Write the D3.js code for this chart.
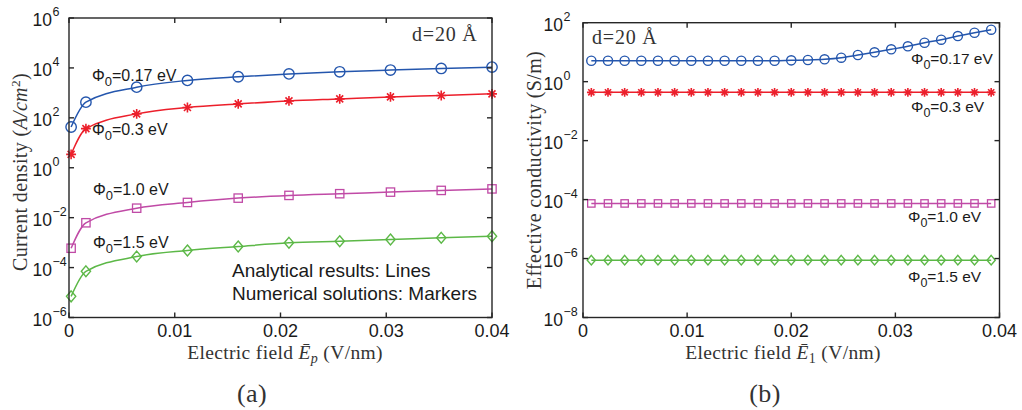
<!DOCTYPE html>
<html lang="en">
<head>
<meta charset="utf-8">
<title>Current density and effective conductivity</title>
<script src="https://cdn.jsdelivr.net/npm/d3@7"></script>
<style>
  body { margin: 0; background: #fff; }
  svg { display: block; }
  .sans { font-family: "Liberation Sans", Arial, Helvetica, sans-serif; fill: #1a1a1a; }
  .serif { font-family: "Liberation Serif", "Times New Roman", serif; fill: #333; letter-spacing: 0.35px; }
</style>
</head>
<body>
<div class="chart"></div>
<script>
// ---- data ----
// panel (a): markers = numerical, lines = analytical
var xA = [0.0002, 0.0016, 0.0064, 0.0112, 0.016, 0.0208, 0.0256, 0.0304, 0.0352, 0.04];
var jPhi017 = [43, 424, 1690, 3150, 4420, 5750, 7000, 8220, 9500, 10770];
var jPhi03 = [3.45, 37, 144, 260, 361, 478, 574, 690, 787, 912];
var jPhi10 = [5.96e-4, 6.24e-3, 0.024, 0.0407, 0.0607, 0.078, 0.0912, 0.1057, 0.1236, 0.1422];
var jPhi15 = [7.03e-6, 7.1e-5, 2.77e-4, 4.82e-4, 6.97e-4, 9.82e-4, 1.14e-3, 1.33e-3, 1.56e-3, 1.81e-3];

// panel (b)
var xB = [0.0008, 0.0024, 0.004, 0.0056, 0.0072, 0.0088, 0.0104, 0.012, 0.0136, 0.0152,
          0.0168, 0.0184, 0.02, 0.0216, 0.0232, 0.0248, 0.0264, 0.028, 0.0296, 0.0312,
          0.0328, 0.0344, 0.036, 0.0376, 0.0392];
var sPhi017 = [5.13, 5.13, 5.13, 5.13, 5.13, 5.13, 5.13, 5.13, 5.13, 5.13,
               5.13, 5.13, 5.29, 5.42, 5.73, 6.49, 8.01, 9.9, 12.5, 15.8,
               20.9, 26.5, 35.3, 45.7, 57.8];
var sPhi03 = [0.434, 0.434, 0.434, 0.434, 0.434, 0.434, 0.434, 0.434, 0.434, 0.434,
              0.434, 0.434, 0.434, 0.434, 0.434, 0.434, 0.434, 0.434, 0.434, 0.434,
              0.434, 0.434, 0.434, 0.434, 0.434];
var sPhi10 = [7.4e-5, 7.4e-5, 7.4e-5, 7.4e-5, 7.4e-5, 7.4e-5, 7.4e-5, 7.4e-5, 7.4e-5, 7.4e-5,
              7.4e-5, 7.4e-5, 7.4e-5, 7.4e-5, 7.4e-5, 7.4e-5, 7.4e-5, 7.4e-5, 7.4e-5, 7.4e-5,
              7.4e-5, 7.4e-5, 7.4e-5, 7.4e-5, 7.4e-5];
var sPhi15 = [8.8e-7, 8.8e-7, 8.8e-7, 8.8e-7, 8.8e-7, 8.8e-7, 8.8e-7, 8.8e-7, 8.8e-7, 8.8e-7,
              8.8e-7, 8.8e-7, 8.8e-7, 8.8e-7, 8.8e-7, 8.8e-7, 8.8e-7, 8.8e-7, 8.8e-7, 8.8e-7,
              8.8e-7, 8.8e-7, 8.8e-7, 8.8e-7, 8.8e-7];

var xTicks = [0, 0.01, 0.02, 0.03, 0.04];
var xTickLabels = ["0", "0.01", "0.02", "0.03", "0.04"];
var yTicksA = [-6, -4, -2, 0, 2, 4, 6];      // exponents
var yTicksB = [-8, -6, -4, -2, 0, 2];
var seriesNames = ["0.17", "0.3", "1.0", "1.5"];

var colors = ["#2456ad", "#ec1f2b", "#c04aa6", "#5cb847"];
var shapes = ["circle", "star", "square", "diamond"];

var W = 1022, H = 410;
var svg = d3.select(".chart").append("svg").attr("width", W).attr("height", H);

function marker(g, shape, size, color) {
  if (shape == "circle") {
    g.append("circle").attr("r", size).style("fill", "none").style("stroke", color).style("stroke-width", 1.4);
  } else if (shape == "square") {
    g.append("rect").attr("x", -size * 0.8).attr("y", -size * 0.8)
      .attr("width", size * 1.6).attr("height", size * 1.6)
      .style("fill", "none").style("stroke", color).style("stroke-width", 1.3);
  } else if (shape == "diamond") {
    var s = size * 1.05;
    g.append("path").attr("d", "M0," + (-s) + "L" + (s * 0.85) + ",0L0," + s + "L" + (-s * 0.85) + ",0Z")
      .style("fill", "none").style("stroke", color).style("stroke-width", 1.4);
  } else {
    var r = size * 0.95, q = r * 0.7071, p = "";
    p += "M0," + (-r) + "L0," + r;
    p += "M" + (-r) + ",0L" + r + ",0";
    p += "M" + (-q) + "," + (-q) + "L" + q + "," + q;
    p += "M" + (-q) + "," + q + "L" + q + "," + (-q);
    g.append("path").attr("d", p).style("fill", "none").style("stroke", color).style("stroke-width", 1.6);
  }
}

function phiLabel(x, y, val, fs) {
  var t = svg.append("text").attr("class", "sans").attr("x", x).attr("y", y).style("font-size", fs + "px");
  t.append("tspan").text("Φ");
  t.append("tspan").text("0").attr("dy", 5).style("font-size", (fs - 3) + "px");
  t.append("tspan").text("=" + val + " eV").attr("dy", -5);
}

function panel(cfg) {
  var x = d3.scaleLinear().domain([0, 0.04]).range([cfg.left, cfg.right]);
  var y = d3.scaleLog().domain(cfg.ydom).range([cfg.bottom, cfg.top]);
  var g = svg.append("g");

  // lines + markers
  cfg.series.forEach(function(vals, i) {
    var pts = cfg.xs.map(function(xv, k) { return [xv, vals[k]]; });
    g.append("path").datum(pts)
      .attr("d", d3.line().x(function(d) { return x(d[0]); }).y(function(d) { return y(d[1]); }).curve(d3.curveMonotoneX))
      .style("fill", "none").style("stroke", colors[i]).style("stroke-width", 1.5);
    pts.forEach(function(d) {
      var m = g.append("g").attr("transform", "translate(" + x(d[0]) + "," + y(d[1]) + ")");
      marker(m, shapes[i], cfg.msize, colors[i]);
    });
  });

  // box and inward ticks
  var ax = svg.append("g").style("stroke", "#262626").style("stroke-width", 1.4);
  ax.append("rect").attr("x", cfg.left).attr("y", cfg.top)
    .attr("width", cfg.right - cfg.left).attr("height", cfg.bottom - cfg.top).style("fill", "none");
  xTicks.forEach(function(v) {
    ax.append("line").attr("x1", x(v)).attr("x2", x(v)).attr("y1", cfg.bottom).attr("y2", cfg.bottom - 5);
    ax.append("line").attr("x1", x(v)).attr("x2", x(v)).attr("y1", cfg.top).attr("y2", cfg.top + 5);
  });
  cfg.yticks.forEach(function(e) {
    var yy = y(Math.pow(10, e));
    ax.append("line").attr("x1", cfg.left).attr("x2", cfg.left + 5).attr("y1", yy).attr("y2", yy);
    ax.append("line").attr("x1", cfg.right).attr("x2", cfg.right - 5).attr("y1", yy).attr("y2", yy);
  });

  // tick labels
  xTicks.forEach(function(v, i) {
    svg.append("text").attr("class", "sans").attr("x", x(v)).attr("y", cfg.bottom + 19.5)
      .attr("text-anchor", "middle").style("font-size", "18px").text(xTickLabels[i]);
  });
  cfg.yticks.forEach(function(e) {
    var yy = y(Math.pow(10, e));
    svg.append("text").attr("class", "sans").attr("x", cfg.left - cfg.labGap).attr("y", yy + 8)
      .attr("text-anchor", "end").style("font-size", "17.5px").text("10");
    svg.append("text").attr("class", "sans").attr("x", cfg.left - cfg.labGap + 0.5).attr("y", yy - 2)
      .style("font-size", "12.5px").text(e < 0 ? "\u2212" + (-e) : "" + e);
  });

  // x title
  var xt = svg.append("text").attr("class", "serif").attr("x", cfg.xtitleX).attr("y", 359)
    .attr("text-anchor", "middle").style("font-size", "19.5px");
  xt.append("tspan").text("Electric field ");
  xt.append("tspan").text("E\u0304").style("font-style", "italic");
  xt.append("tspan").text(cfg.sub).attr("dy", 4).style("font-size", "14px").style("font-style", cfg.sub == "p" ? "italic" : "normal");
  xt.append("tspan").text(" (V/nm)").attr("dy", -4);

  // d = 20 Å
  svg.append("text").attr("class", "serif").attr("x", cfg.dX).attr("y", cfg.dY)
    .style("font-size", "20px").style("letter-spacing", "0.8px").text("d=20 Å");

  // panel label
  svg.append("text").attr("class", "serif").attr("x", cfg.panelX).attr("y", 402)
    .attr("text-anchor", "middle").style("font-size", "26px").text(cfg.panel);
  return { x: x, y: y };
}

panel({
  left: 69, right: 492, top: 18, bottom: 317.5, labGap: 17,
  ydom: [1e-6, 1e6], yticks: yTicksA, xs: xA,
  series: [jPhi017, jPhi03, jPhi10, jPhi15], msize: 5.2,
  xtitleX: 285, sub: "p", dX: 412, dY: 41, panelX: 252, panel: "(a)"
});

panel({
  left: 583, right: 999.5, top: 22.7, bottom: 317.5, labGap: 20,
  ydom: [1e-8, 1e2], yticks: yTicksB, xs: xB,
  series: [sPhi017, sPhi03, sPhi10, sPhi15], msize: 4.6,
  xtitleX: 783, sub: "1", dX: 592, dY: 44, panelX: 765, panel: "(b)"
});

// y titles
var yt1 = svg.append("text").attr("class", "serif").attr("transform", "translate(27,172) rotate(-90)")
  .attr("text-anchor", "middle").style("font-size", "20px");
yt1.append("tspan").text("Current density (");
yt1.append("tspan").text("A/cm").style("font-style", "italic");
yt1.append("tspan").text("2").attr("dy", -7).style("font-size", "13.5px");
yt1.append("tspan").text(")").attr("dy", 7);

svg.append("text").attr("class", "serif").attr("transform", "translate(541,170) rotate(-90)")
  .attr("text-anchor", "middle").style("font-size", "20px").text("Effective conductivity (S/m)");

// series labels
var leftLab = [[92, 81], [92, 135], [93, 195], [93, 248]];
var rightLab = [[911, 64], [911, 112], [908, 222], [908, 282]];
seriesNames.forEach(function(n, i) {
  phiLabel(leftLab[i][0], leftLab[i][1], n, 16);
  phiLabel(rightLab[i][0], rightLab[i][1], n, 15.5);
});

svg.append("text").attr("class", "sans").attr("x", 232).attr("y", 277).style("font-size", "19px").text("Analytical results: Lines");
svg.append("text").attr("class", "sans").attr("x", 232).attr("y", 299.5).style("font-size", "19px").text("Numerical solutions: Markers");
</script>
</body>
</html>
